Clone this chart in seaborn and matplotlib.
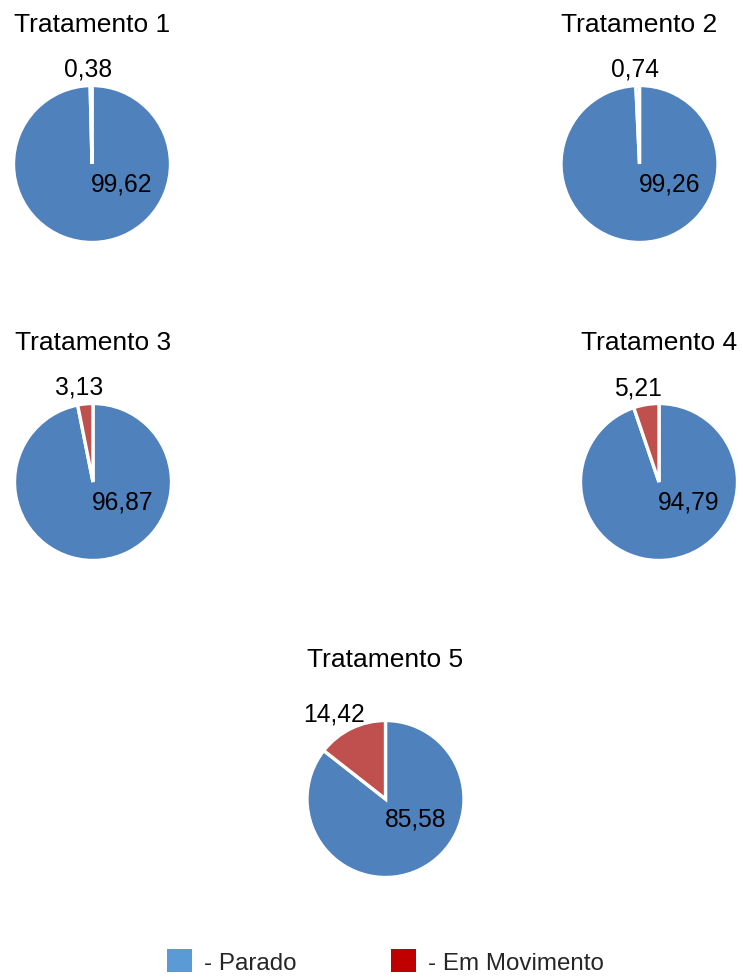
import numpy as np
import matplotlib
matplotlib.use("Agg")
import matplotlib.pyplot as plt
from matplotlib.patches import Patch
import seaborn as sns

sns.set_theme(style="white")
plt.rcParams["font.family"] = ["Liberation Sans", "DejaVu Sans"]

# Percent of time per treatment
treatments = ["Tratamento 1", "Tratamento 2", "Tratamento 3", "Tratamento 4", "Tratamento 5"]
parado = [99.62, 99.26, 96.87, 94.79, 85.58]
em_movimento = [0.38, 0.74, 3.13, 5.21, 14.42]
legend_labels = ["- Parado", "- Em Movimento"]

slice_colors = ["#4F81BD", "#C0504D"]
legend_colors = ["#5B9BD5", "#C00000"]

W, H = 743, 979
fig = plt.figure(figsize=(W / 100, H / 100), dpi=100)

# pie centres and radius in pixels
centres = [(92, 165), (639.5, 165), (93, 483), (659, 483), (385.5, 800)]
R = 78.5


def fmt(v):
    return f"{v:.2f}".replace(".", ",")


for name, p, m, (cx, cy) in zip(treatments, parado, em_movimento, centres):
    ax = fig.add_axes([(cx - R) / W, 1 - (cy + R) / H, 2 * R / W, 2 * R / H])
    ax.pie([p, m], colors=slice_colors, startangle=90, counterclock=False,
           radius=1, wedgeprops=dict(edgecolor="white", linewidth=2.4))
    ax.set_xlim(-1, 1)
    ax.set_ylim(-1, 1)
    ax.set_aspect("equal")
    ax.axis("off")

    # label for the large slice, inside the pie
    ax.text(0.382, -0.34, fmt(p), ha="center", va="baseline",
            fontsize=17.7, color="black", clip_on=False)

    # label for the small slice, outside near its mid-angle
    theta = np.deg2rad(90 + 360 * m / 100 / 2)
    lx = 1.43 * np.cos(theta) - 0.03
    ly = 1.245 * np.sin(theta) - 0.115
    ax.text(lx, ly, fmt(m), ha="center", va="baseline",
            fontsize=17.7, color="black", clip_on=False)

    ax.text(0, 1.70, name, ha="center", va="baseline",
            fontsize=19, color="black", clip_on=False)

handles = [Patch(facecolor=c, edgecolor="none") for c in legend_colors]
fig.legend(handles, legend_labels, loc="center",
           bbox_to_anchor=(385.5 / W, 1 - 962.5 / H), ncol=2, frameon=False,
           fontsize=17.4, handlelength=1.04, handleheight=1.04,
           handletextpad=0.5, columnspacing=3.9, labelcolor="#262626")

fig.savefig("out.png", dpi=100, facecolor="white")
